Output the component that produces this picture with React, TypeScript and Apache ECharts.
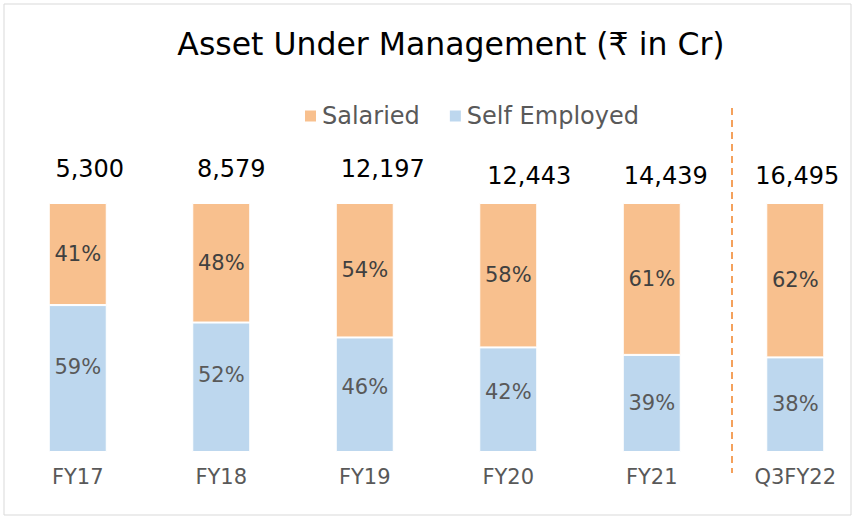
import React, { useEffect, useRef } from "react";
import * as echarts from "echarts";

const categories = ["FY17", "FY18", "FY19", "FY20", "FY21", "Q3FY22"];
const salaried = [41, 48, 54, 58, 61, 62];
const selfEmployed = [59, 52, 46, 42, 39, 38];
const totals = [5300, 8579, 12197, 12443, 14439, 16495];

// label nudges (pixels) to mimic the hand-placed labels of the original
const totalNudge = [[12, 0], [10, 0], [18, 0], [21, 7], [14, 7], [2, 7]];
const selfNudge = [-12, -12, -8, -8, 0, -1];

const ORANGE = "#F8C08E";
const BLUE = "#BDD7EE";
const FONT = "DejaVu Sans";

export default function App() {
  const ref = useRef<HTMLDivElement>(null);
  useEffect(() => {
    if (!ref.current) return;
    const chart = echarts.init(ref.current, undefined, { renderer: "svg" });
    const fmtNum = (v: number) => v.toLocaleString("en-US");
    chart.setOption({
      animation: false,
      backgroundColor: "#ffffff",
      textStyle: { fontFamily: FONT },
      title: {
        text: "Asset Under Management (₹ in Cr)",
        left: 446,
        top: 23,
        textAlign: "center",
        textStyle: { fontFamily: FONT, fontSize: 31.5, fontWeight: "normal", color: "#000000" },
      },
      legend: {
        data: ["Salaried", "Self Employed"],
        left: 298,
        top: 99,
        itemWidth: 13,
        itemHeight: 13,
        itemGap: 28,
        icon: "rect",
        textStyle: { fontFamily: FONT, fontSize: 24, color: "#595959" },
      },
      grid: {
        left: 6,
        top: 203,
        width: 861,
        height: 249,
        outerBoundsMode: "none",
      },
      xAxis: {
        type: "category",
        data: categories,
        axisLine: { show: false },
        axisTick: { show: false },
        axisLabel: { fontFamily: FONT, fontSize: 21, color: "#595959", margin: 14 },
      },
      yAxis: { type: "value", min: 0, max: 100, show: false, splitLine: { show: false } },
      series: [
        {
          name: "Self Employed",
          type: "bar",
          stack: "s",
          barWidth: 58,
          data: selfEmployed.map((v, i) => ({
            value: v,
            label: { offset: [0, selfNudge[i]] },
          })),
          itemStyle: { color: BLUE, borderColor: "#ffffff", borderWidth: 1 },
          label: {
            show: true,
            position: "inside",
            formatter: (p: any) => p.value + "%",
            fontFamily: FONT,
            fontSize: 21,
            color: "#595959",
          },
        },
        {
          name: "Salaried",
          type: "bar",
          stack: "s",
          barWidth: 58,
          data: salaried.map((v) => v),
          itemStyle: { color: ORANGE, borderColor: "#ffffff", borderWidth: 1 },
          label: {
            show: true,
            position: "inside",
            formatter: (p: any) => p.value + "%",
            fontFamily: FONT,
            fontSize: 21,
            color: "#404040",
          },
        },
        {
          name: "Total",
          type: "bar",
          stack: "t",
          barWidth: 58,
          barGap: "-100%",
          silent: true,
          data: totals.map((t, i) => ({
            value: 100,
            label: { offset: totalNudge[i] },
          })),
          itemStyle: { color: "rgba(0,0,0,0)" },
          label: {
            show: true,
            position: "top",
            distance: 22,
            formatter: (p: any) => fmtNum(totals[p.dataIndex]),
            fontFamily: FONT,
            fontSize: 24,
            color: "#000000",
          },
          z: 5,
        },
      ],
      graphic: [
        {
          type: "rect",
          shape: { x: 4, y: 4, width: 847, height: 511 },
          style: { fill: "none", stroke: "#D9D9D9", lineWidth: 1 },
          silent: true,
        },
        {
          type: "line",
          shape: { x1: 732, y1: 108, x2: 732, y2: 473 },
          style: { stroke: "#F4A15C", lineWidth: 2, lineDash: [7, 5] },
          silent: true,
        },
      ],
    });
    return () => chart.dispose();
  }, []);
  return (
    <div
      ref={ref}
      style={{ position: "fixed", left: 0, top: 0, width: 854, height: 517 }}
    />
  );
}
